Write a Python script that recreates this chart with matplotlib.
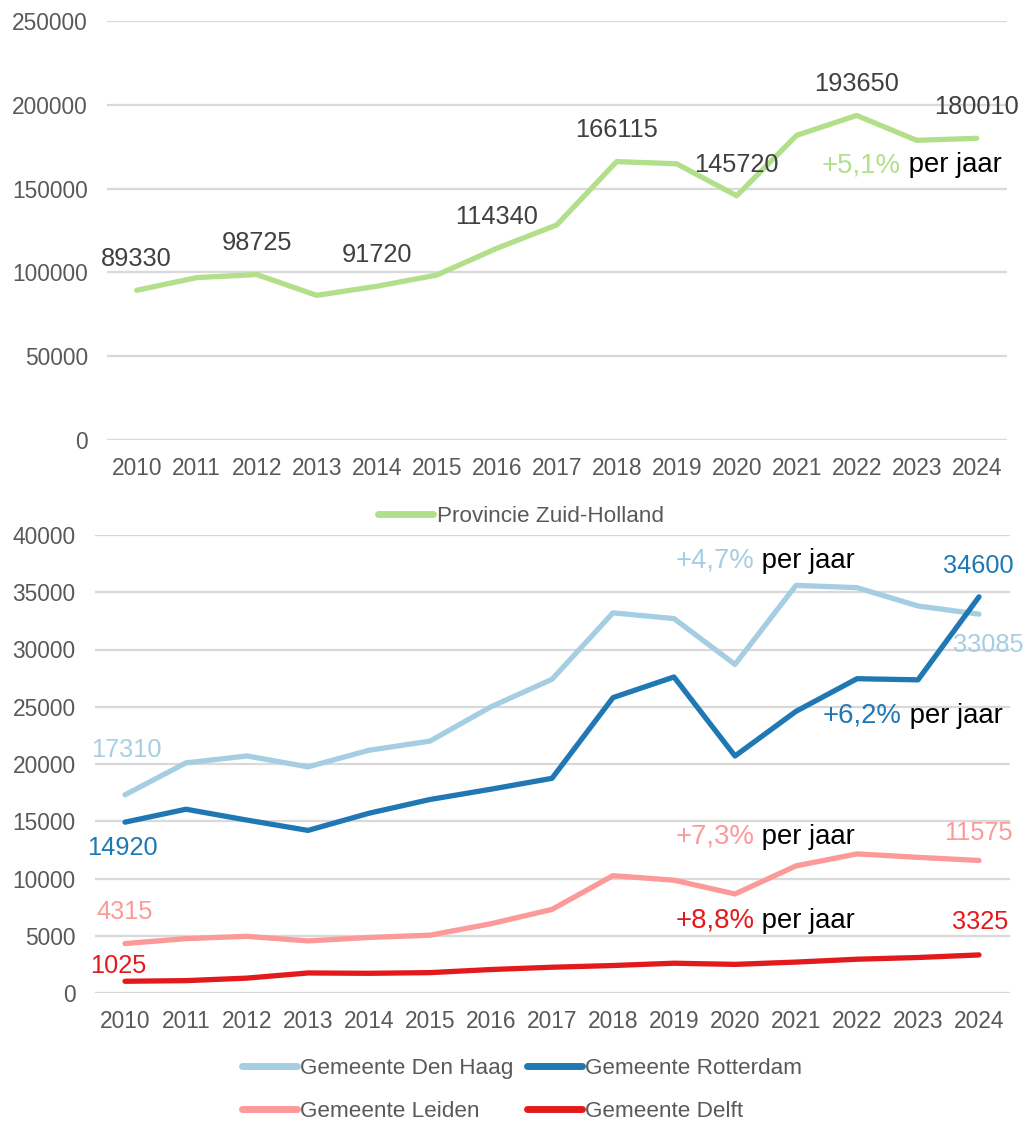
import matplotlib
matplotlib.use("Agg")
import matplotlib.pyplot as plt
from matplotlib.lines import Line2D

plt.rcParams['font.family'] = ['Liberation Sans', 'DejaVu Sans']

years = [str(y) for y in range(2010, 2025)]

zuid_holland = [89330, 96900, 98725, 86300, 91720, 98400, 114340, 128300,
                166115, 164800, 145720, 181800, 193650, 178800, 180010]
den_haag = [17310, 20100, 20700, 19750, 21200, 22000, 25000, 27400,
            33200, 32700, 28700, 35600, 35400, 33800, 33085]
rotterdam = [14920, 16050, 15100, 14200, 15700, 16900, 17800, 18750,
             25800, 27600, 20700, 24600, 27450, 27350, 34600]
leiden = [4315, 4750, 4950, 4550, 4850, 5050, 6050, 7300,
          10250, 9850, 8650, 11100, 12150, 11850, 11575]
delft = [1025, 1080, 1300, 1750, 1720, 1780, 2050, 2250,
         2400, 2600, 2500, 2700, 2950, 3100, 3325]

top_ticks = [0, 50000, 100000, 150000, 200000, 250000]
bottom_ticks = [0, 5000, 10000, 15000, 20000, 25000, 30000, 35000, 40000]

C_ZH = '#B2DF8A'
C_DH = '#A6CEE3'
C_RO = '#1F78B4'
C_LE = '#FB9A99'
C_DE = '#E31A1C'
GRID = '#D9D9D9'
TXT = '#595959'
LBL = '#404040'

TICK_FS = 16.4
LBL_FS = 18.3
ANN_FS = 19.8
LEG_FS = 16.2
LW = 3.8

fig = plt.figure(figsize=(10.26, 11.22), dpi=100)

W, H = 1026.0, 1122.0
def rect(l, r, t, b):
    return [l / W, 1 - b / H, (r - l) / W, (b - t) / H]

ax1 = fig.add_axes(rect(106.7, 1006.7, 21, 440))
ax2 = fig.add_axes(rect(94.5, 1009.5, 535, 993))

x = list(range(len(years)))

def style(ax, ticks):
    ax.set_xlim(-0.5, len(years) - 0.5)
    ax.set_ylim(ticks[0], ticks[-1])
    ax.set_yticks(ticks)
    ax.set_yticklabels([str(t) for t in ticks])
    ax.set_xticks(x)
    ax.set_xticklabels(years)
    for s in ax.spines.values():
        s.set_visible(False)
    ax.tick_params(axis='both', length=0, labelsize=TICK_FS, labelcolor=TXT)
    ax.tick_params(axis='y', pad=13.5)
    ax.tick_params(axis='x', pad=12.5)
    ax.grid(axis='y', color=GRID, linewidth=1.6)
    ax.set_axisbelow(True)

style(ax1, top_ticks)
style(ax2, bottom_ticks)

# Top panel
l_zh, = ax1.plot(x, zuid_holland, color=C_ZH, lw=LW, solid_capstyle='round',
                 label='Provincie Zuid-Holland')
for i in [0, 2, 4, 6, 8, 10, 12, 14]:
    ax1.annotate(str(zuid_holland[i]), xy=(x[i], zuid_holland[i]),
                 xytext=(0, 22.5), textcoords='offset points',
                 ha='center', va='center', fontsize=LBL_FS, color=LBL)

def growth(ax, xi, yv, pct, color):
    t = ax.text(xi, yv, pct, color=color, fontsize=ANN_FS, ha='left', va='baseline')
    ax.annotate(' per jaar', xy=(1, 0), xycoords=t, ha='left', va='bottom',
                fontsize=ANN_FS, color='black')

growth(ax1, 11.42, 159900, '+5,1%', C_ZH)

# Bottom panel
l_dh, = ax2.plot(x, den_haag, color=C_DH, lw=LW, solid_capstyle='round', label='Gemeente Den Haag')
l_ro, = ax2.plot(x, rotterdam, color=C_RO, lw=LW, solid_capstyle='round', label='Gemeente Rotterdam')
l_le, = ax2.plot(x, leiden, color=C_LE, lw=LW, solid_capstyle='round', label='Gemeente Leiden')
l_de, = ax2.plot(x, delft, color=C_DE, lw=LW, solid_capstyle='round', label='Gemeente Delft')

def lab(ax, series, i, dx, dy, color):
    ax.annotate(str(series[i]), xy=(x[i], series[i]),
                xytext=(dx / 1.389, dy / 1.389), textcoords='offset points',
                ha='center', va='center', fontsize=LBL_FS, color=color)

lab(ax2, den_haag, 0, 1, 45, C_DH)
lab(ax2, den_haag, 14, 9, -30.5, C_DH)
lab(ax2, rotterdam, 0, -3, -26, C_RO)
lab(ax2, rotterdam, 14, -1, 31, C_RO)
lab(ax2, leiden, 0, 0, 31.6, C_LE)
lab(ax2, leiden, 14, -1, 27.6, C_LE)
lab(ax2, delft, 0, -7, 15, C_DE)
lab(ax2, delft, 14, 1, 33, C_DE)

growth(ax2, 9.02, 37150, '+4,7%', C_DH)
growth(ax2, 11.44, 23600, '+6,2%', C_RO)
growth(ax2, 9.02, 13020, '+7,3%', C_LE)
growth(ax2, 9.02, 5700, '+8,8%', C_DE)

# Legends
leg_kw = dict(frameon=False, fontsize=LEG_FS, labelcolor=TXT, handlelength=2.45,
              handletextpad=0.15, borderpad=0, borderaxespad=0)
h1 = Line2D([], [], color=C_ZH, lw=5, solid_capstyle='round')
fig.legend([h1], ['Provincie Zuid-Holland'], loc='center',
           bbox_to_anchor=(521 / W, 1 - 516 / H), **leg_kw)

hs = [Line2D([], [], color=c, lw=5, solid_capstyle='round') for c in [C_DH, C_LE, C_RO, C_DE]]
fig.legend(hs, ['Gemeente Den Haag', 'Gemeente Leiden', 'Gemeente Rotterdam', 'Gemeente Delft'],
           loc='center', bbox_to_anchor=(522 / W, 1 - 1090 / H), ncol=2,
           labelspacing=0.95, columnspacing=0.6, **leg_kw)

fig.savefig('out.png', dpi=100)
